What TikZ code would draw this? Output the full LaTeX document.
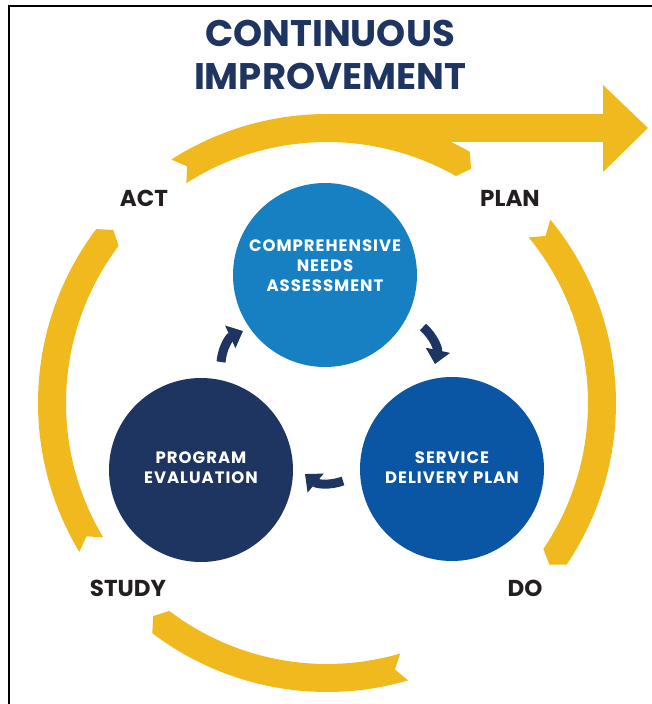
\documentclass[tikz,border=0pt]{standalone}
\usepackage{fontspec}
\setmainfont{Poppins}
\newfontfamily\bubblefont{Poppins}[LetterSpace=6]
\usetikzlibrary{arrows.meta}
\definecolor{ringyellow}{HTML}{F0BA1E}
\definecolor{navy}{HTML}{1E3461}
\definecolor{needblue}{HTML}{1780C3}
\definecolor{planblue}{HTML}{0A55A4}
\definecolor{labelgrey}{HTML}{231F20}

\begin{document}
\begin{tikzpicture}[x=1pt,y=1pt,
  bubble/.style={circle,minimum size=184pt,inner sep=0pt},
  bubbletext/.style={text=white,font=\bubblefont\bfseries\fontsize{16.5}{20}\selectfont,align=center},
  stage/.style={text=labelgrey,font=\bfseries\fontsize{23}{23}\selectfont},
  turn/.style={navy,line width=9pt,-{Triangle[length=14pt,width=24pt]}}]
\useasboundingbox (-327,-301) rectangle (325,403);
% frame
\draw[line width=1.5pt] (-318,-301) -- (-318,397) -- (325,397);
% title
\node[text=navy,font=\bfseries\fontsize{37}{43}\selectfont,align=center] (title) at (3,348) {CONTINUOUS\\IMPROVEMENT};
% ring segments, tail angle / head angle
\foreach \a/\b in {39.4/-34, -73.7/-127.2, -149/-217, 122.6/60.4}
  \fill[ringyellow] (\a:289) arc[start angle=\a, end angle=\b, radius=289]
    -- ({\b-2}:275) -- (\b:261) arc[start angle=\b, end angle=\a, radius=261]
    -- ({\a-2}:275) -- cycle;
% big arrow out of the top
\fill[ringyellow] (0,261) -- (276,261) -- (276,231) -- (321,275) -- (276,318) -- (276,289) -- (0,289) -- cycle;
% circles
\node[bubble,fill=needblue] (needs) at (-2,128) {};
\node[bubble,fill=planblue] (service) at (125,-66) {};
\node[bubble,fill=navy] (evaluation) at (-126,-67) {};
\node[bubbletext] (needstext) at ([yshift=9pt]needs.center) {COMPREHENSIVE\\NEEDS\\ASSESSMENT};
\node[bubbletext] (servicetext) at ([yshift=1pt]service.center) {SERVICE\\DELIVERY PLAN};
\node[bubbletext] (evaluationtext) at ([yshift=2pt]evaluation.center) {PROGRAM\\EVALUATION};
% stage labels
\node[stage] (act) at (-183,205) {ACT};
\node[stage] (plan) at (183,205) {PLAN};
\node[stage] (study) at (-199,-185) {STUDY};
\node[stage] (do) at (198,-185) {DO};
% small turning arrows
\coordinate (evalout) at (-106,41);
\coordinate (needsin) at (-84,72);
\coordinate (needsout) at (96,76);
\coordinate (servicein) at (108,39);
\coordinate (serviceout) at (16,-78);
\coordinate (evalin) at (-22,-71);
\draw[turn] (evalout) to[bend left=30] (needsin);
\draw[turn] (needsout) to[bend left=30] (servicein);
\draw[turn] (serviceout) to[bend left=30] (evalin);
\end{tikzpicture}
\end{document}
